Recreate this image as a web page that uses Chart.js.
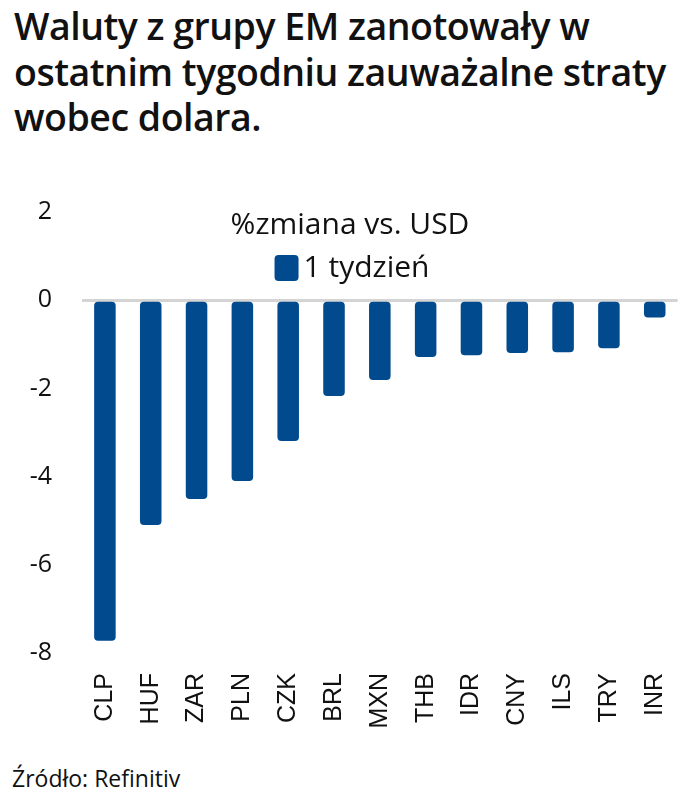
<!DOCTYPE html>
<html>
<head>
<meta charset="utf-8">
<script src="https://cdn.jsdelivr.net/npm/chart.js@4"></script>
<style>
  body { margin: 0; background: #fff; width: 697px; height: 800px; position: relative; overflow: hidden; }
  #title { position: absolute; left: 14px; top: 3px; font-family: "Open Sans", sans-serif; font-weight: 600; font-size: 37.5px; line-height: 45.5px; color: #111; letter-spacing: -0.5px; }
  #wrap { position: absolute; left: 0; top: 190px; width: 697px; height: 565px; }
  #source { position: absolute; left: 12px; top: 762px; font-family: "Open Sans", sans-serif; font-size: 23px; color: #111; }
</style>
</head>
<body>
<div id="title">Waluty z grupy EM zanotowały w<br>ostatnim tygodniu zauważalne straty<br>wobec dolara.</div>
<div id="wrap"><canvas id="chart"></canvas></div>
<div id="source">Źródło: Refinitiv</div>
<script>
const currencies = ['CLP', 'HUF', 'ZAR', 'PLN', 'CZK', 'BRL', 'MXN', 'THB', 'IDR', 'CNY', 'ILS', 'TRY', 'INR'];
const weekChange = [-7.72, -5.10, -4.51, -4.10, -3.19, -2.17, -1.81, -1.29, -1.25, -1.20, -1.18, -1.09, -0.39];
const yTicks = [2, 0, -2, -4, -6, -8];
const legendTitle = '%zmiana vs. USD';
const seriesName = '1 tydzień';
const barColor = '#004a8d';

const legendFont = '30px "Open Sans", sans-serif';

// legend drawn inside the plot, above the zero line
const innerLegend = {
    id: 'innerLegend',
    afterDraw(chart) {
        const ctx = chart.ctx;
        ctx.save();
        ctx.font = legendFont;
        ctx.fillStyle = '#111';
        ctx.textBaseline = 'middle';
        ctx.textAlign = 'center';
        ctx.fillText(legendTitle, 350, 35);
        const label = chart.data.datasets[0].label;
        const tw = ctx.measureText(label).width;
        const bw = 24, gap = 5;
        const x0 = 352 - (bw + gap + tw) / 2;
        ctx.fillStyle = barColor;
        ctx.beginPath();
        ctx.roundRect(x0, 65, bw, 26, 4);
        ctx.fill();
        ctx.fillStyle = '#111';
        ctx.textAlign = 'left';
        ctx.fillText(label, x0 + bw + gap, 78);
        ctx.restore();
    }
};

new Chart(document.getElementById('chart'), {
    type: 'bar',
    data: {
        labels: currencies,
        datasets: [{
            label: seriesName,
            data: weekChange,
            backgroundColor: barColor,
            borderRadius: 4,
            borderSkipped: false,
            barPercentage: 0.47,
            categoryPercentage: 1
        }]
    },
    options: {
        responsive: true,
        maintainAspectRatio: false,
        animation: false,
        layout: { padding: { top: 22, right: 7, left: 0, bottom: 0 } },
        plugins: {
            tooltip: { enabled: false },
            legend: { display: false }
        },
        scales: {
            x: {
                grid: { display: false },
                border: { display: false },
                ticks: {
                    color: '#111',
                    font: { family: '"Liberation Sans", Arial, sans-serif', size: 25 },
                    maxRotation: 90,
                    minRotation: 90,
                    padding: 12
                },
                afterFit: s => { s.height = 102; s.paddingTop = 0; s.paddingBottom = 0; }
            },
            y: {
                min: -8,
                max: 2,
                afterBuildTicks: s => { s.ticks = yTicks.map(v => ({ value: v })); },
                grid: {
                    color: c => c.tick && c.tick.value === 0 ? '#d4d4d4' : 'transparent',
                    lineWidth: 3,
                    drawTicks: false
                },
                border: { display: false },
                ticks: {
                    color: '#111',
                    font: { family: '"Open Sans", sans-serif', size: 25 },
                    padding: 30
                },
                afterFit: s => { s.width = 82; s.paddingTop = 0; s.paddingBottom = 0; }
            }
        }
    },
    plugins: [innerLegend]
});
</script>
</body>
</html>
